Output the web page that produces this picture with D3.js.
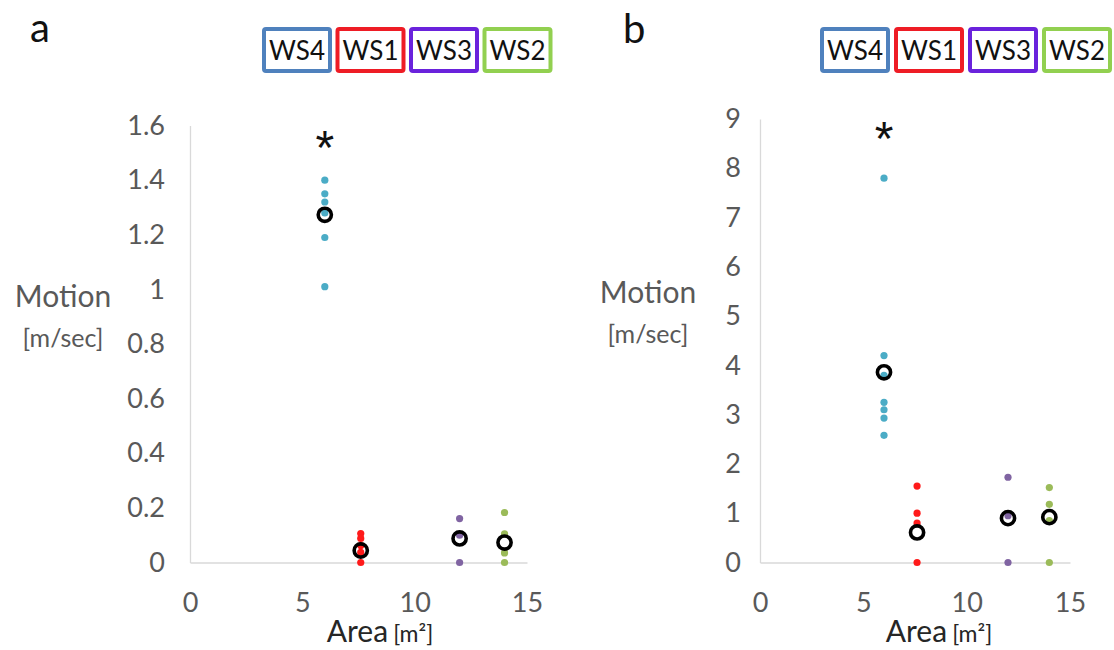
<!DOCTYPE html>
<html>
<head>
<meta charset="utf-8">
<script src="https://cdn.jsdelivr.net/npm/d3@7"></script>
<style>
  html, body { margin: 0; padding: 0; background: #fff; }
  svg { display: block; font-family: Lato, "Open Sans", sans-serif; }
</style>
</head>
<body>
<svg id="chart" width="1114" height="650"></svg>
<script>
// Workstation groups, in legend order, with floor area (m²)
const groups = ["WS4", "WS1", "WS3", "WS2"];
const areas = [6, 7.6, 12, 14];
const dotColors = ["#4bacc6", "#ff1a1a", "#8064a2", "#9bbb59"];
const boxColors = ["#4f81bd", "#ee1c25", "#6a22dc", "#92d050"];

// Panel a: individual motion values per group and group means
const motionA = [
  [1.40, 1.35, 1.32, 1.28, 1.19, 1.01],
  [0.106, 0.088, 0.062, 0.037, 0],
  [0.161, 0.10, 0],
  [0.183, 0.105, 0.035, 0]
];
const meanA = [1.273, 0.044, 0.088, 0.073];
const ticksA = [0, 0.2, 0.4, 0.6, 0.8, 1, 1.2, 1.4, 1.6];

// Panel b: individual motion values per group and group means
const motionB = [
  [7.8, 4.2, 3.8, 3.25, 3.1, 2.93, 2.58],
  [1.55, 1.0, 0.8, 0],
  [1.73, 0.95, 0],
  [1.52, 1.18, 0.85, 0]
];
const meanB = [3.86, 0.61, 0.9, 0.92];
const ticksB = [0, 1, 2, 3, 4, 5, 6, 7, 8, 9];

const xTicks = [0, 5, 10, 15];
const starA = 1.54;   // significance marker level, panel a
const starB = 8.72;   // significance marker level, panel b

const svg = d3.select("#chart");

function panel(cfg) {
  const g = svg.append("g");
  const x = d3.scaleLinear().domain([0, 15]).range([cfg.left, cfg.right]);
  const y = d3.scaleLinear().domain([0, cfg.yMax]).range([cfg.bottom, cfg.top]);

  // y axis
  const ya = g.append("g")
    .attr("transform", `translate(${cfg.left},0)`)
    .call(d3.axisLeft(y).tickValues(cfg.yTicks).tickSize(0).tickSizeOuter(0)
      .tickPadding(cfg.yPad).tickFormat(d3.format("")));
  ya.select(".domain").attr("stroke", "#d9d9d9").attr("stroke-width", 1.3);
  ya.selectAll("text").attr("fill", "#595959").style("font-size", "27px")
    .style("font-family", "Lato, sans-serif");

  // x axis
  const xa = g.append("g")
    .attr("transform", `translate(0,${cfg.bottom})`)
    .call(d3.axisBottom(x).tickValues(xTicks).tickSize(0).tickSizeOuter(0).tickPadding(30));
  xa.select(".domain").attr("stroke", "#d9d9d9").attr("stroke-width", 1.3);
  xa.selectAll("text").attr("fill", "#595959").style("font-size", "27px")
    .style("font-family", "Lato, sans-serif");

  // individual observations
  cfg.values.forEach((vals, i) => {
    g.append("g").selectAll("circle").data(vals).join("circle")
      .attr("cx", x(areas[i]))
      .attr("cy", d => y(d))
      .attr("r", 3.6)
      .attr("fill", dotColors[i]);
  });

  // group means
  g.append("g").selectAll("circle").data(cfg.means).join("circle")
    .attr("cx", (d, i) => x(areas[i]))
    .attr("cy", d => y(d))
    .attr("r", 6.6)
    .attr("fill", "none")
    .attr("stroke", "#000")
    .attr("stroke-width", 3.6);

  // significance marker
  g.append("text")
    .attr("x", x(areas[0]))
    .attr("y", y(cfg.star) + 22)
    .attr("text-anchor", "middle")
    .style("font-size", "48px")
    .style("font-family", "Liberation Sans, sans-serif")
    .attr("fill", "#111")
    .text("*");

  // panel letter
  g.append("text")
    .attr("x", cfg.letterX).attr("y", cfg.letterY)
    .style("font-size", "40px")
    .attr("fill", "#111")
    .text(cfg.letter);

  // y axis title
  g.append("text")
    .attr("x", cfg.titleX).attr("y", cfg.titleY)
    .attr("text-anchor", "middle")
    .attr("fill", "#595959")
    .style("font-size", "30px")
    .text("Motion");
  g.append("text")
    .attr("x", cfg.titleX).attr("y", cfg.titleY + 40)
    .attr("text-anchor", "middle")
    .attr("fill", "#595959")
    .style("font-size", "25px")
    .text("[m/sec]");

  // x axis title
  const xt = g.append("text")
    .attr("x", cfg.areaX).attr("y", 642)
    .attr("text-anchor", "middle")
    .attr("fill", "#262626");
  xt.append("tspan").style("font-size", "30px").text("Area");
  xt.append("tspan").style("font-size", "23px").attr("dx", 5).text("[m²]");

  // legend boxes
  const lg = g.append("g");
  groups.forEach((name, i) => {
    const bx = cfg.legendX + i * cfg.legendStep;
    lg.append("rect")
      .attr("x", bx).attr("y", 29)
      .attr("width", 66).attr("height", 42)
      .attr("rx", 2)
      .attr("fill", "#fff")
      .attr("stroke", boxColors[i])
      .attr("stroke-width", 4);
    lg.append("text")
      .attr("x", bx + 33).attr("y", 60)
      .attr("text-anchor", "middle")
      .attr("fill", "#111")
      .style("font-size", "26px")
      .text(name);
  });
}

panel({
  left: 190, right: 527, top: 125.5, bottom: 562.5, yMax: 1.6,
  yTicks: ticksA, yPad: 25, values: motionA, means: meanA, star: starA,
  letter: "a", letterX: 30, letterY: 42, titleX: 63, titleY: 307, areaX: 380,
  legendX: 264, legendStep: 73.5
});

panel({
  left: 760, right: 1070, top: 119, bottom: 562.5, yMax: 9,
  yTicks: ticksB, yPad: 19, values: motionB, means: meanB, star: starB,
  letter: "b", letterX: 623, letterY: 43, titleX: 648, titleY: 303, areaX: 939,
  legendX: 822, legendStep: 74
});
</script>
</body>
</html>
